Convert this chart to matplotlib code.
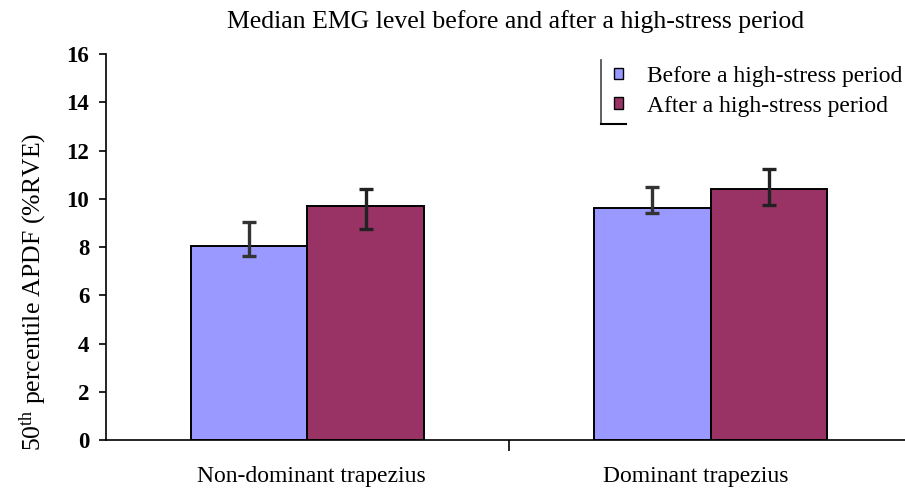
import matplotlib
matplotlib.use("Agg")
import matplotlib.pyplot as plt
import matplotlib.transforms as mtransforms
import numpy as np

categories = ["Non-dominant trapezius", "Dominant trapezius"]
series_names = ["Before a high-stress period", "After a high-stress period"]
before = [8.05, 9.63]
after = [9.71, 10.41]
before_lo = [7.63, 9.42]
before_hi = [9.05, 10.50]
after_lo = [8.76, 9.75]
after_hi = [10.41, 11.24]
yticks = [0, 2, 4, 6, 8, 10, 12, 14, 16]

plt.rcParams['font.family'] = ['Liberation Serif', 'DejaVu Serif']
plt.rcParams['mathtext.fontset'] = 'custom'
plt.rcParams['mathtext.rm'] = 'Liberation Serif'
plt.rcParams['mathtext.it'] = 'Liberation Serif:italic'
plt.rcParams['mathtext.bf'] = 'Liberation Serif:bold'

fig = plt.figure(figsize=(9.05, 4.91), dpi=100)
ax = fig.add_axes([0.1171, 0.1039, 1.0 - 0.1171, 0.786])

x = np.arange(len(categories))
w = 0.288
c_before = "#9999ff"
c_after = "#993366"

ax.bar(x - w/2, before, w, color=c_before, edgecolor="black", linewidth=1.4,
       label=series_names[0], zorder=2)
ax.bar(x + w/2, after, w, color=c_after, edgecolor="black", linewidth=1.4,
       label=series_names[1], zorder=2)

b = np.array(before); a = np.array(after)
ax.errorbar(x - w/2, b, yerr=[b - np.array(before_lo), np.array(before_hi) - b],
            fmt="none", ecolor="#333333", elinewidth=2.4, capsize=5, capthick=2.4, zorder=3)
ax.errorbar(x + w/2, a, yerr=[a - np.array(after_lo), np.array(after_hi) - a],
            fmt="none", ecolor="#222222", elinewidth=2.4, capsize=5, capthick=2.4, zorder=3)

ax.set_xlim(-0.5, 1.4826)
ax.set_ylim(0, 16)
ax.set_yticks(yticks)
ax.set_yticklabels([str(t) for t in yticks], fontweight="bold", fontsize=16.5)
ax.set_xticks(x)
ax.set_xticklabels(categories, fontsize=17)
ax.set_xticks([0.5], minor=True)
ax.tick_params(axis="x", which="major", length=0, pad=19)
ax.tick_params(axis="x", which="minor", length=8, width=1.2, direction="out")
ax.tick_params(axis="y", length=5, width=1.2, direction="out", pad=7)

for lbl, dx in zip(ax.get_xticklabels(), [4, -15]):
    lbl.set_transform(lbl.get_transform() +
                      mtransforms.ScaledTranslation(dx / 100, 0, fig.dpi_scale_trans))

for s in ["top", "right"]:
    ax.spines[s].set_visible(False)
for s in ["left", "bottom"]:
    ax.spines[s].set_linewidth(1.2)

fig.text(33/905, 1 - 292/491, "50$^{\\mathrm{th}}$ percentile APDF (%RVE)",
         rotation=90, ha="center", va="center", fontsize=18.5)
fig.text(516/905, 1 - 22/491, "Median EMG level before and after a high-stress period",
         ha="center", va="center", fontsize=18.5)

leg = fig.legend(loc="upper left", bbox_to_anchor=(614/905, 1 - 66/491), frameon=False,
                 fontsize=17, handlelength=0.38, handleheight=0.38, handletextpad=1.02,
                 labelspacing=0.37, borderaxespad=0, borderpad=0)
for h in leg.legend_handles:
    h.set_linewidth(1.0)

# partial legend frame (left and bottom edges)
fig.add_artist(plt.Line2D([601/905, 601/905], [1-60/491, 1-124/491], color="#444444", lw=1.2))
fig.add_artist(plt.Line2D([601/905, 626/905], [1-124/491, 1-124/491], color="black", lw=1.5))

fig.savefig("out.png", dpi=100)
